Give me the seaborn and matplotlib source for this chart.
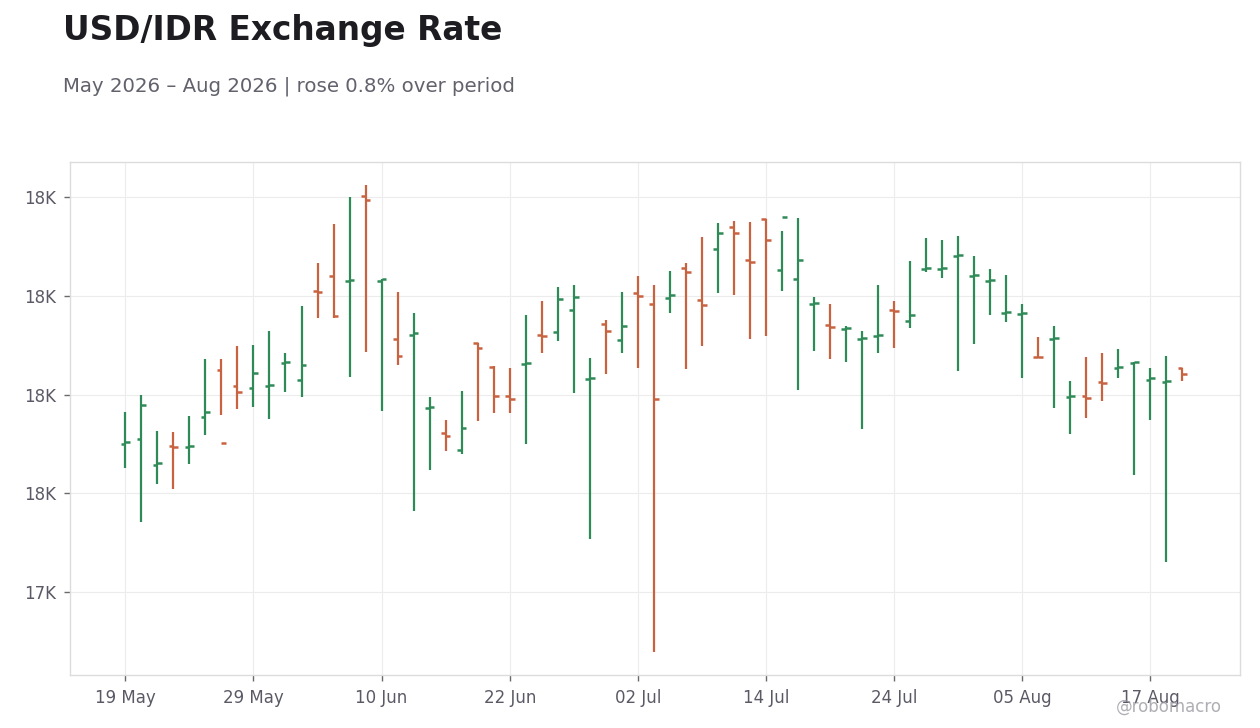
import pandas as pd
import seaborn as sns
import matplotlib.pyplot as plt

# daily OHLC, USD/IDR, business days from 19 May 2026
start_date = "2026-05-19"
opens = [17700, 17711, 17657, 17695, 17693, 17755, 17850, 17817, 17813, 17818,
         17864, 17829, 18009, 18039, 18030, 18201, 18029, 17912, 17921, 17773,
         17723, 17687, 17904, 17856, 17796, 17862, 17920, 17926, 17970, 17831,
         17942, 17910, 18005, 17983, 17995, 18055, 17991, 18094, 18138, 18072,
         18155, 18051, 18033, 17984, 17940, 17933, 17913, 17919, 17970, 17948,
         18054, 18054, 18081, 18040, 18030, 17965, 17963, 17876, 17913, 17795,
         17796, 17826, 17853, 17863, 17829, 17826, 17853]
highs = [17765, 17798, 17727, 17725, 17757, 17871, 17871, 17899, 17901, 17929,
         17883, 17978, 18065, 18144, 18199, 18223, 18033, 18008, 17964, 17794,
         17749, 17808, 17905, 17857, 17854, 17960, 17990, 18018, 18022, 17873,
         17950, 18008, 18039, 18022, 18049, 18065, 18118, 18146, 18150, 18148,
         18155, 18130, 18156, 17998, 17982, 17939, 17929, 18022, 17990, 18069,
         18116, 18112, 18120, 18081, 18053, 18041, 17982, 17917, 17939, 17828,
         17875, 17883, 17893, 17865, 17854, 17877, 17854]
lows = [17651, 17542, 17619, 17608, 17659, 17719, 17758, 17771, 17774, 17751,
        17806, 17794, 17954, 17954, 17835, 17885, 17766, 17859, 17564, 17647,
        17685, 17679, 17746, 17762, 17762, 17699, 17883, 17908, 17804, 17507,
        17841, 17883, 17853, 17280, 17964, 17851, 17898, 18005, 18001, 17912,
        17918, 18009, 17810, 17887, 17871, 17865, 17730, 17883, 17894, 17934,
        18047, 18035, 17847, 17902, 17960, 17946, 17833, 17874, 17772, 17721,
        17752, 17786, 17833, 17638, 17748, 17462, 17827]
closes = [17704, 17778, 17661, 17693, 17695, 17764, 17701, 17806, 17843, 17820,
          17866, 17859, 18007, 17958, 18032, 18193, 18033, 17877, 17924, 17775,
          17717, 17732, 17894, 17796, 17790, 17864, 17918, 17993, 17997, 17833,
          17928, 17938, 18000, 17790, 18001, 18047, 17981, 18126, 18126, 18068,
          18112, 18159, 18072, 17986, 17936, 17935, 17915, 17921, 17968, 17960,
          18056, 18056, 18083, 18042, 18032, 17967, 17965, 17875, 17915, 17797,
          17792, 17824, 17855, 17865, 17833, 17828, 17841]

UP = "#2e8b57"
DOWN = "#c9623e"

df = pd.DataFrame({"open": opens, "high": highs, "low": lows, "close": closes})
df["date"] = pd.bdate_range(start_date, periods=len(df))
df["i"] = range(len(df))
df["dir"] = ["up" if c >= o else "down" for o, c in zip(df["open"], df["close"])]

# long table: one low and one high point per bar -> vertical segment
rng = pd.concat([
    df[["i", "dir"]].assign(price=df["low"]),
    df[["i", "dir"]].assign(price=df["high"]),
])

sns.set_theme(style="whitegrid")
plt.rcParams["font.family"] = ["DejaVu Sans"]

fig = plt.figure(figsize=(12.6, 7.28), dpi=100)
ax = fig.add_axes([0.0556, 0.0728, 0.9286, 0.7047])

sns.lineplot(data=rng, x="i", y="price", hue="dir", units="i", estimator=None,
             palette={"up": UP, "down": DOWN}, linewidth=1.6, legend=False,
             ax=ax, solid_capstyle="butt")

colors = [UP if d == "up" else DOWN for d in df["dir"]]
ax.hlines(df["open"], df["i"] - 0.3, df["i"], colors=colors, linewidth=1.8)
ax.hlines(df["close"], df["i"], df["i"] + 0.3, colors=colors, linewidth=1.8)

ax.set_xlim(-3.45, len(df) - 1 + 3.6)
tick_idx = list(range(0, len(df), 8))
ax.set_xticks(tick_idx)
ax.set_xticklabels([df["date"][k].strftime("%d %b") for k in tick_idx])
yt = [17400, 17600, 17800, 18000, 18200]
ax.set_yticks(yt)
ax.set_yticklabels([f"{v / 1000:.0f}K" for v in yt])
ax.set_xlabel("")
ax.set_ylabel("")

ax.set_facecolor("white")
ax.grid(True, color="#ececec", linewidth=0.8)
for s in ax.spines.values():
    s.set_color("#dcdcdc")
    s.set_linewidth(1)
ax.tick_params(axis="both", colors="#5a5a66", labelsize=12, length=4,
               width=1, direction="out", bottom=True, left=True, pad=6)
ax.tick_params(axis="x", color="#6a6a6a")
ax.tick_params(axis="y", color="#6a6a6a")

fig.text(0.05, 1 - 40 / 728, "USD/IDR Exchange Rate", fontsize=23.6,
         fontweight="bold", color="#1c1c21", va="baseline")
fig.text(0.05, 1 - 92 / 728, "May 2026 \u2013 Aug 2026 | rose 0.8% over period",
         fontsize=14.2, color="#62626d", va="baseline")
fig.text(0.97, 1 - 712 / 728, "@robomacro", fontsize=12, color="#9a9aa2",
         alpha=0.8, ha="right", va="baseline")

fig.savefig("out.png", dpi=100, facecolor="white")
